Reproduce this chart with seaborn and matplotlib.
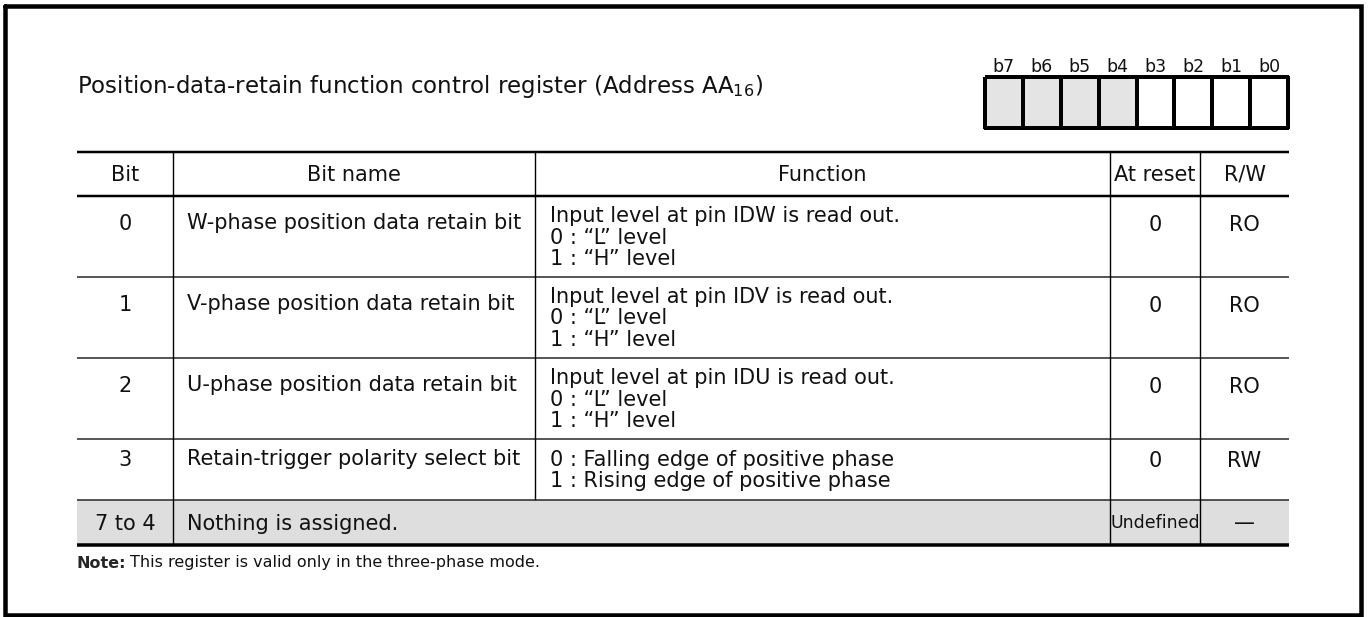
import numpy as np
import matplotlib
matplotlib.use("Agg")
import matplotlib.pyplot as plt
from matplotlib.colors import ListedColormap
from matplotlib import font_manager
import seaborn as sns

# register layout (b7 .. b0), 1 = not assigned (shaded)
bit_labels = ["b7", "b6", "b5", "b4", "b3", "b2", "b1", "b0"]
bit_unused = [1, 1, 1, 1, 0, 0, 0, 0]

# table contents
headers = ["Bit", "Bit name", "Function", "At reset", "R/W"]
bit_nums = ["0", "1", "2", "3"]
bit_names = [
    "W-phase position data retain bit",
    "V-phase position data retain bit",
    "U-phase position data retain bit",
    "Retain-trigger polarity select bit",
]
functions = [
    "Input level at pin IDW is read out.\n0 : \u201cL\u201d level\n1 : \u201cH\u201d level",
    "Input level at pin IDV is read out.\n0 : \u201cL\u201d level\n1 : \u201cH\u201d level",
    "Input level at pin IDU is read out.\n0 : \u201cL\u201d level\n1 : \u201cH\u201d level",
    "0 : Falling edge of positive phase\n1 : Rising edge of positive phase",
]
at_reset = ["0", "0", "0", "0"]
rw = ["RO", "RO", "RO", "RW"]
reserved_bits = "7 to 4"
reserved_text = "Nothing is assigned."
reserved_reset = "Undefined"
reserved_rw = "\u2014"

title = "Position-data-retain function control register (Address AA$_{16}$)"
note_head = "Note:"
note_text = "This register is valid only in the three-phase mode."

sns.set_theme(style="white")
plt.rcParams["font.family"] = ["DejaVu Sans"]
plt.rcParams["mathtext.default"] = "regular"

W, H = 1369, 617
FS = 15
INK = "#111111"
fig = plt.figure(figsize=(W / 100, H / 100), dpi=100)
ax = fig.add_axes([0, 0, 1, 1])
ax.set_xlim(0, W)
ax.set_ylim(H, 0)
ax.axis("off")

def pt(px):
    return px * 0.72

# outer frame
ax.plot([5, 1361, 1361, 5, 5], [6, 6, 615, 615, 6], color="black",
        lw=pt(4.5), solid_joinstyle="miter", clip_on=False)

# title
ax.text(77, 87, title, fontsize=16.5, va="center", ha="left", color=INK)

# table geometry
cols = [77, 173, 535, 1110, 1200, 1289]
top = 152
row_edges = [196, 277, 358, 439, 500, 545]
centers = [(cols[i] + cols[i + 1]) / 2 for i in range(5)]

# shaded row
ax.fill_between([cols[0], cols[-1]], row_edges[4], row_edges[5], color="#dedede", lw=0)

# horizontal rules
ax.hlines(top, cols[0], cols[-1], color="black", lw=pt(2.5))
ax.hlines(row_edges[0], cols[0], cols[-1], color="black", lw=pt(2.5))
ax.hlines(row_edges[1:5], cols[0], cols[-1], color="#222222", lw=pt(1.5))
ax.hlines(row_edges[5], cols[0], cols[-1], color="black", lw=pt(3.5))
# vertical rules (the name/function divider stops above the unassigned row)
ax.vlines([cols[1], cols[3], cols[4]], top, row_edges[5], color="black", lw=pt(1.4))
ax.vlines(cols[2], top, row_edges[4], color="black", lw=pt(1.4))

# header
for c, h in zip(centers, headers):
    ax.text(c, (top + row_edges[0]) / 2 + 1, h, fontsize=FS, ha="center", va="center",
            color=INK)

for i in range(len(bit_nums)):
    y0, y1 = row_edges[i], row_edges[i + 1]
    hgt = y1 - y0
    ax.text(centers[0], y0 + 0.35 * hgt, bit_nums[i], fontsize=FS, ha="center", va="center",
            color=INK)
    ax.text(187, y0 + 0.33 * hgt, bit_names[i], fontsize=FS, ha="left", va="center",
            color=INK)
    ax.text(550, (y0 + y1) / 2 + 1, functions[i], fontsize=FS, ha="left", va="center",
            linespacing=1.12, color=INK)
    ax.text(centers[3], y0 + 0.36 * hgt, at_reset[i], fontsize=FS, ha="center", va="center",
            color=INK)
    ax.text(centers[4], y0 + 0.36 * hgt, rw[i], fontsize=FS, ha="center", va="center",
            color=INK)

# not-assigned row
ym = (row_edges[4] + row_edges[5]) / 2 + 1
ax.text(centers[0], ym, reserved_bits, fontsize=FS, ha="center", va="center", color=INK)
ax.text(187, ym, reserved_text, fontsize=FS, ha="left", va="center", color=INK)
names = {f.name for f in font_manager.fontManager.ttflist}
cond = "DejaVu Sans Condensed" if "DejaVu Sans Condensed" in names else "DejaVu Sans"
ax.text(centers[3], ym, reserved_reset, fontsize=13 if cond != "DejaVu Sans" else 12.5,
        ha="center", va="center", family=[cond], color=INK)
ax.text(centers[4], ym, reserved_rw, fontsize=FS, ha="center", va="center", color=INK)

# note
t = ax.text(77, 563, note_head, fontsize=11.5, fontweight="bold", ha="left", va="center")
fig.canvas.draw()
bb = t.get_window_extent().transformed(ax.transData.inverted())
ax.text(bb.x1 + 4, 563, note_text, fontsize=11.5, ha="left", va="center", color=INK)

# register bit boxes via heatmap
bx0, bx1, by0, by1 = 985, 1288, 77, 128
rax = fig.add_axes([bx0 / W, 1 - by1 / H, (bx1 - bx0) / W, (by1 - by0) / H])
sns.heatmap(np.array([bit_unused]), ax=rax, cmap=ListedColormap(["white", "#e4e4e4"]),
            cbar=False, linewidths=pt(2.2), linecolor="black",
            xticklabels=bit_labels, yticklabels=False, vmin=0, vmax=1)
rax.collections[0].set_clip_on(False)
rax.xaxis.tick_top()
rax.tick_params(axis="x", length=0, pad=1, labelsize=12.5, labelcolor=INK)
for s in rax.spines.values():
    s.set_visible(False)

fig.savefig("out.png", dpi=100)
